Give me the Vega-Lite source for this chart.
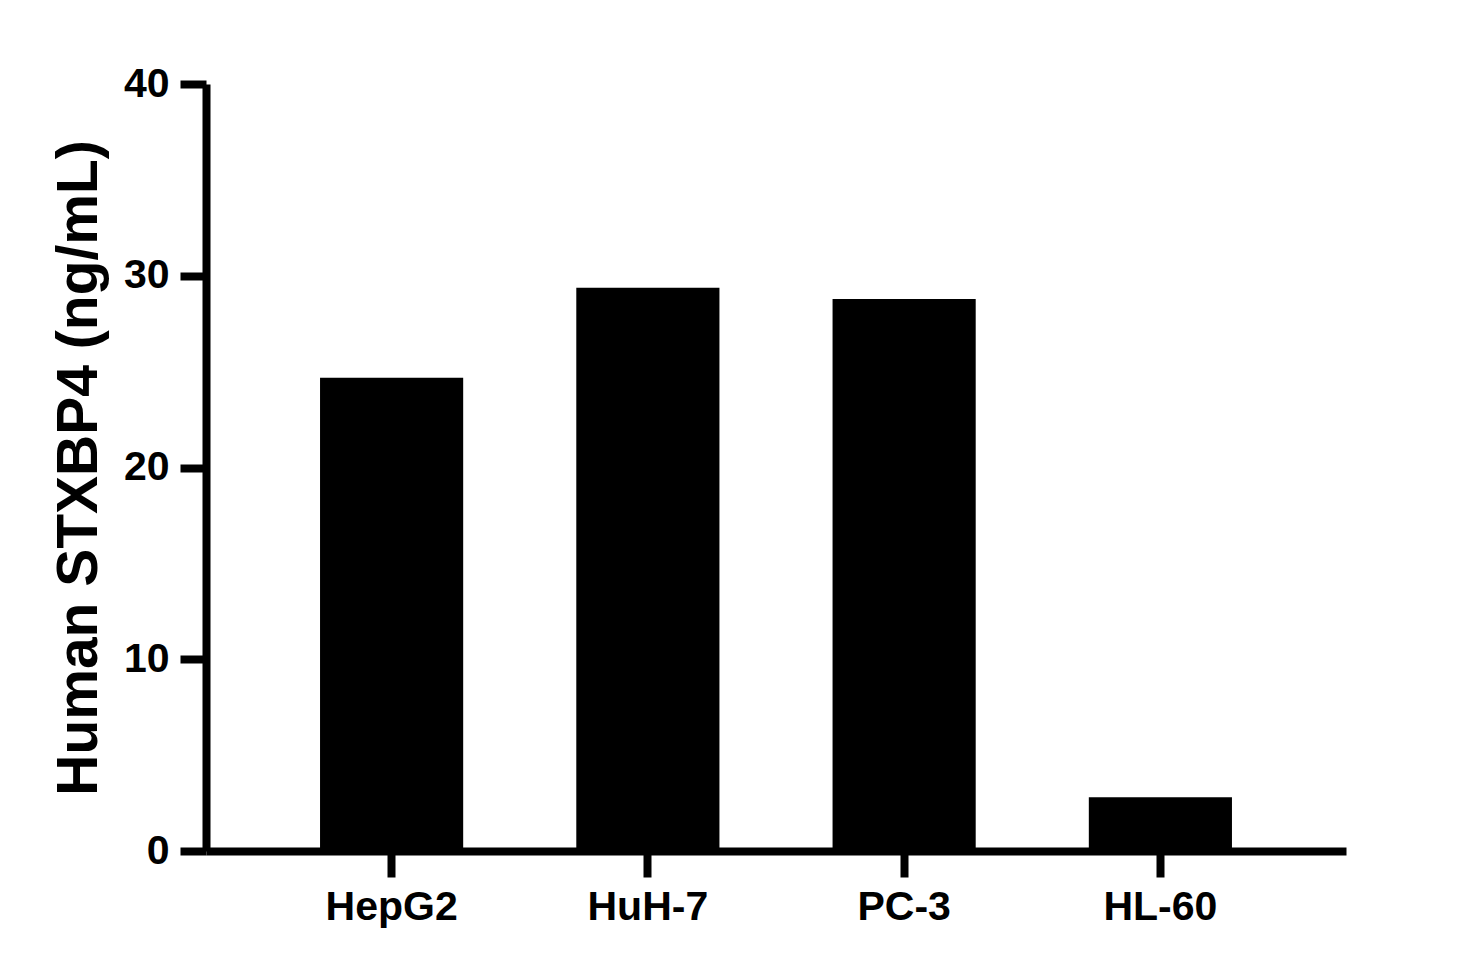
{
  "$schema": "https://vega.github.io/schema/vega-lite/v6.json",
  "autosize": {"type": "none"},
  "padding": {"left": 206, "top": 84, "right": 135, "bottom": 121},
  "width": 1140,
  "height": 767,
  "background": "white",
  "config": {
    "view": {"stroke": null},
    "font": "Liberation Sans",
    "axis": {
      "grid": false,
      "domainColor": "black",
      "domainWidth": 8,
      "tickColor": "black",
      "tickWidth": 8,
      "tickSize": 26,
      "labelFont": "Liberation Sans",
      "labelFontWeight": "bold",
      "labelFontSize": 41,
      "labelColor": "black",
      "titleFont": "Liberation Sans",
      "titleFontWeight": "bold",
      "titleColor": "black"
    }
  },
  "data": {
    "values": [
      {"cell": "HepG2", "conc": 24.68},
      {"cell": "HuH-7", "conc": 29.37},
      {"cell": "PC-3", "conc": 28.79},
      {"cell": "HL-60", "conc": 2.8}
    ]
  },
  "mark": {"type": "bar", "color": "black"},
  "encoding": {
    "x": {
      "field": "cell",
      "type": "nominal",
      "sort": null,
      "scale": {"paddingInner": 0.4414, "paddingOuter": 0.445},
      "axis": {"title": null, "labelAngle": 0, "labelPadding": 10}
    },
    "y": {
      "field": "conc",
      "type": "quantitative",
      "scale": {"domain": [0, 40], "nice": false},
      "axis": {
        "title": "Human STXBP4 (ng/mL)",
        "titleFontSize": 57,
        "titlePadding": 15,
        "values": [0, 10, 20, 30, 40],
        "labelPadding": 11
      }
    }
  }
}
